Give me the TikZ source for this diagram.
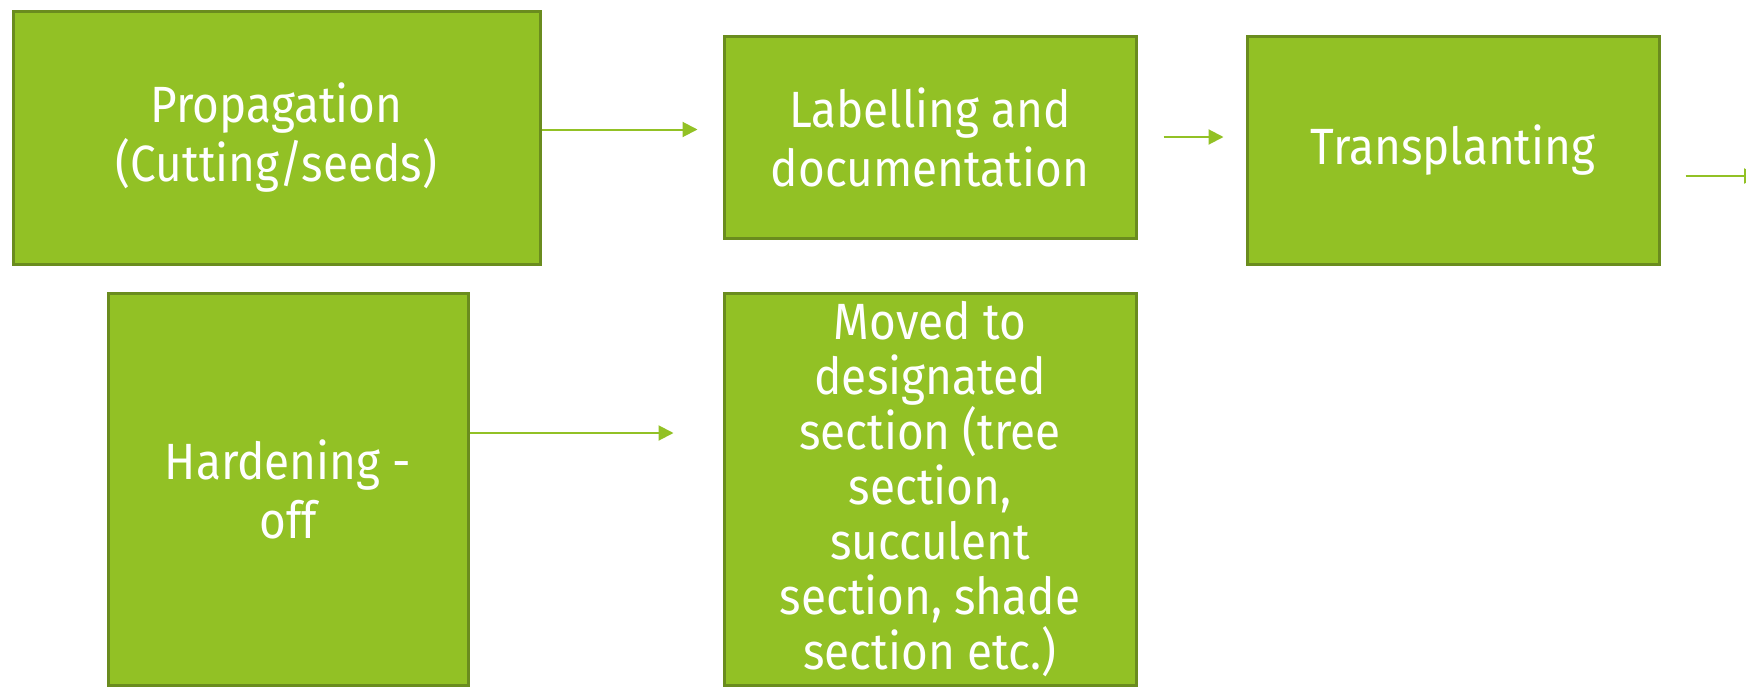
\documentclass[tikz,border=0pt]{standalone}
\usepackage{fontspec}
\setmainfont{Fira Sans}[FakeStretch=0.9]
\usetikzlibrary{arrows.meta}
\definecolor{boxfill}{RGB}{146,193,37}
\definecolor{boxline}{RGB}{106,140,30}
\begin{document}
\begin{tikzpicture}[x=1pt,y=-1pt,
  box/.style={rectangle, fill=boxfill, draw=boxline, line width=3pt, inner sep=0pt,
    text=white, align=center, font=\fontsize{51}{59}\selectfont},
  txt/.style={text=white, align=center, inner sep=0pt, font=\fontsize{51}{55}\selectfont},
  conn/.style={draw=boxfill, line width=2pt, -{Triangle[length=15pt,width=15pt]}}]
\useasboundingbox (0,0) rectangle (1746,686);
\node[box, minimum width=527pt, minimum height=253pt] (prop) at (276.5,137.5) {Propagation\\(Cutting/seeds)};
\node[box, minimum width=412pt, minimum height=202pt] (lab) at (930,137) {Labelling and\\documentation};
\node[box, minimum width=412pt, minimum height=228pt] (trans) at (1453,150) {Transplanting};
\node[box, minimum width=360pt, minimum height=392pt] (hard) at (288,489) {Hardening -\\off};
\node[box, minimum width=412pt, minimum height=392pt] (moved) at (930,489) {};
\node[txt] (movedtxt) at (930,489) {Moved to\\designated\\section (tree\\section,\\succulent\\section, shade\\section etc.)};
\coordinate (edge) at (1759,176);
\draw[conn, shorten >=25pt] ([yshift=8pt]prop.east) -- ([yshift=8pt]prop.east -| lab.west);
\draw[conn, shorten <=26pt, shorten >=22pt] (lab.east) -- (lab.east -| trans.west);
\draw[conn, shorten <=25pt] (trans.east |- edge) -- (edge);
\draw[conn, shorten >=49pt] ([yshift=56pt]hard.east) -- ([yshift=56pt]moved.west);
\end{tikzpicture}
\end{document}
